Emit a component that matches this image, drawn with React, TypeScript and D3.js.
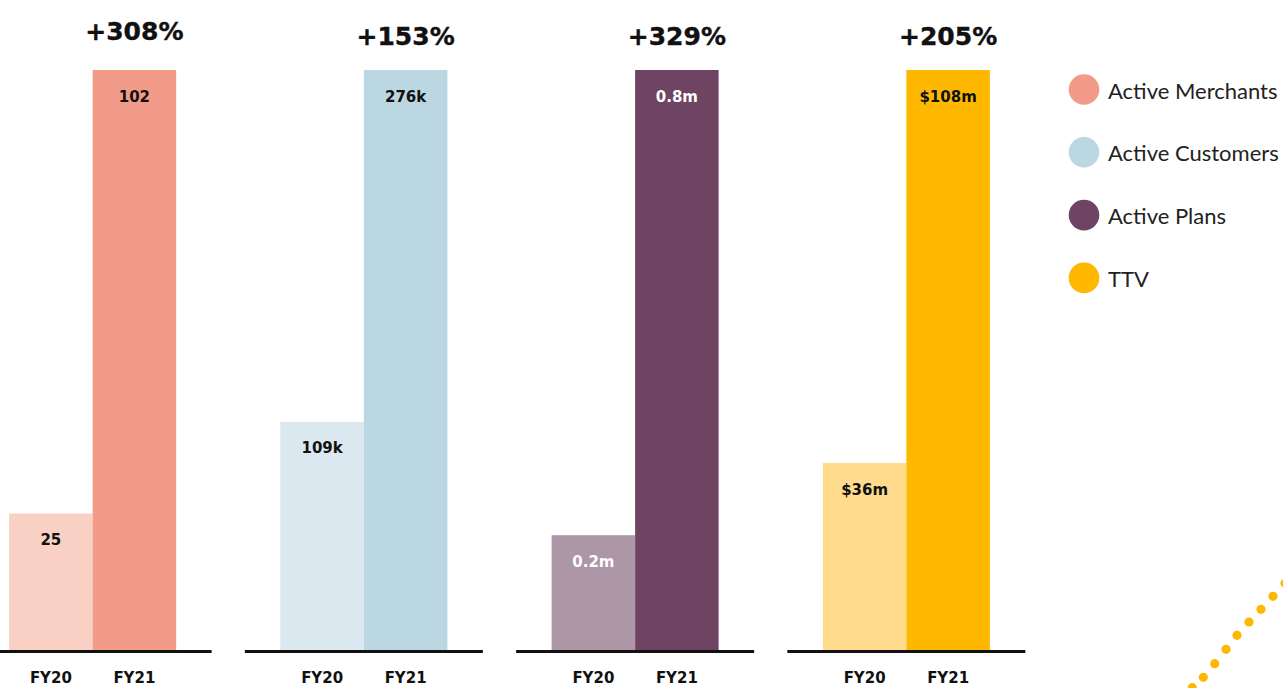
import React from "react";
import * as d3 from "d3";

const metrics = ["Active Merchants", "Active Customers", "Active Plans", "TTV"];
const years = ["FY20", "FY21"];
const fy20Values = [24.2, 109, 0.16, 35];
const fy21Values = [102, 276, 0.8, 108];
const fy20Labels = ["25", "109k", "0.2m", "$36m"];
const fy21Labels = ["102", "276k", "0.8m", "$108m"];
const growthLabels = ["+308%", "+153%", "+329%", "+205%"];
const fy20Colors = ["#F9D1C4", "#DCE8F0", "#AD96A6", "#FEDC8C"];
const fy21Colors = ["#F29B88", "#BBD7E2", "#6E4462", "#FEB800"];
const labelColors = ["#111", "#111", "#fff", "#111"];
const decoDots = [
  [1192.3, 687.7], [1203.3, 677.3], [1214.7, 663.7], [1226, 649.3],
  [1237, 635.3], [1249, 622], [1261, 609.3], [1273, 596.3], [1285, 583.3],
];

const W = 1283;
const H = 688;
const BASE = 651.5;
const TOP = 70;

export default function App() {
  const panelX = d3.scaleBand<string>().domain(metrics).range([-43, 1042]).padding(0);
  const boldFont = "'DejaVu Sans', sans-serif";
  return (
    <svg
      width={W}
      height={H}
      style={{ position: "absolute", left: 0, top: 0, background: "#fff" }}
      xmlns="http://www.w3.org/2000/svg"
    >
      {metrics.map((m, i) => {
        const c = (panelX(m) as number) + panelX.bandwidth() / 2;
        const inner = d3.scaleBand<string>().domain(years).range([c - 83.5, c + 83.5]).padding(0);
        const y = d3.scaleLinear().domain([0, fy21Values[i]]).range([BASE, TOP]);
        const vals = [fy20Values[i], fy21Values[i]];
        const labs = [fy20Labels[i], fy21Labels[i]];
        const cols = [fy20Colors[i], fy21Colors[i]];
        return (
          <g key={m}>
            {years.map((yr, j) => (
              <g key={yr}>
                <rect
                  x={inner(yr)}
                  y={y(vals[j])}
                  width={inner.bandwidth()}
                  height={BASE - y(vals[j])}
                  fill={cols[j]}
                />
                <text
                  x={(inner(yr) as number) + inner.bandwidth() / 2}
                  y={y(vals[j]) + 31.5}
                  textAnchor="middle"
                  fontFamily={boldFont}
                  fontWeight="bold"
                  fontSize={15}
                  fill={labelColors[i]}
                >
                  {labs[j]}
                </text>
                <text
                  x={(inner(yr) as number) + inner.bandwidth() / 2}
                  y={683}
                  textAnchor="middle"
                  fontFamily={boldFont}
                  fontWeight="bold"
                  fontSize={15}
                  fill="#111"
                >
                  {yr}
                </text>
              </g>
            ))}
            <line x1={c - 119} x2={c + 119} y1={BASE} y2={BASE} stroke="#111" strokeWidth={3} />
            <text
              x={(inner("FY21") as number) + inner.bandwidth() / 2}
              y={i === 0 ? 40 : 45}
              textAnchor="middle"
              fontFamily={boldFont}
              fontWeight="bold"
              fontSize={25}
              fill="#111"
              stroke="#111"
              strokeWidth={0.4}
            >
              {growthLabels[i]}
            </text>
          </g>
        );
      })}
      {metrics.map((m, i) => (
        <g key={"leg" + m} transform={`translate(1084, ${89.5 + i * 62.8})`}>
          <circle r={15.3} fill={fy21Colors[i]} />
          <text x={24} y={9} fontFamily="Lato, sans-serif" fontSize={22} fill="#222">
            {m}
          </text>
        </g>
      ))}
      {decoDots.map((d, k) => (
        <circle key={k} cx={d[0]} cy={d[1]} r={4.6} fill="#FEB800" />
      ))}
    </svg>
  );
}
